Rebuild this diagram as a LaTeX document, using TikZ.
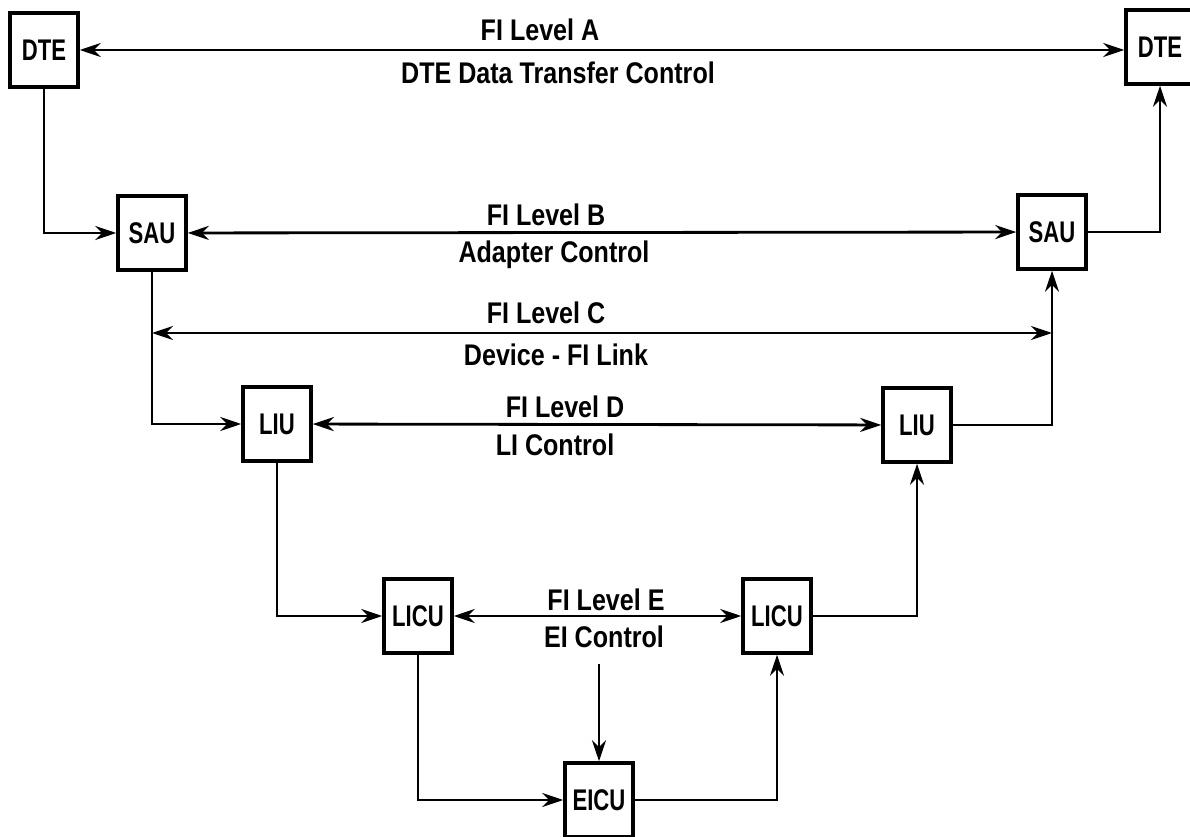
\documentclass[tikz,border=0pt]{standalone}
\usepackage{fontspec}
\setmainfont{Liberation Sans}[FakeStretch=0.84]
\newfontfamily\unitfont{Liberation Sans}[FakeStretch=0.74]
\usetikzlibrary{arrows.meta}
\tikzset{
  unit/.style={draw,line width=2pt,minimum width=1.36cm,minimum height=1.48cm,inner sep=0pt,font=\unitfont\bfseries\fontsize{17}{19}\selectfont},
  link/.style={line width=1.6pt},
  tip/.style={-{Stealth[length=12pt,width=8pt]}},
  both/.style={{Stealth[length=12pt,width=8pt]}-{Stealth[length=12pt,width=8pt]}},
  lbl/.style={font=\bfseries\fontsize{17}{19}\selectfont,inner sep=1pt}
}
\begin{document}
\begin{tikzpicture}[x=0.02cm,y=-0.02cm]
        \useasboundingbox (0,0) rectangle (1190,837);

        % Units
        \node[unit] (dteL) at (44,50) {DTE};
        \node[unit] (dteR) at (1160,47) {DTE};
        \node[unit] (sauL) at (152,233) {SAU};
        \node[unit] (sauR) at (1052,232) {SAU};
        \node[unit] (liuL) at (277,424) {LIU};
        \node[unit] (liuR) at (917,425) {LIU};
        \node[unit] (licuL) at (418,616) {LICU};
        \node[unit] (licuR) at (777,616) {LICU};
        \node[unit] (eicu) at (599,800) {EICU};

        % Level labels
        \node[lbl] (lvlA1) at (540,30) {FI Level A};
        \node[lbl] (lvlA2) at (558,73) {DTE Data Transfer Control};
        \node[lbl] (lvlB1) at (546,215) {FI Level B};
        \node[lbl] (lvlB2) at (554,255) {Adapter Control};
        \node[lbl] (lvlC1) at (546,313) {FI Level C};
        \node[lbl] (lvlC2) at (556,355) {Device - FI Link};
        \node[lbl] (lvlD1) at (565,407) {FI Level D};
        \node[lbl] (lvlD2) at (555,445) {LI Control};
        \node[lbl] (lvlE1) at (606,600) {FI Level E};
        \node[lbl] (lvlE2) at (604,637) {EI Control};
        \coordinate (lvlC) at (0,333);

        % Peer links
        \draw[link,both] (dteL.east) -- (dteL.east -| dteR.west);
        \draw[link,both] (sauL) -- (sauR);
        \draw[link,both] (sauL |- lvlC) -- (sauR |- lvlC);
        \draw[link,both] (liuL) -- (liuR);
        \draw[link,both] (licuL) -- (licuR);

        % Down the left side
        \draw[link,tip] (dteL.south) |- (sauL.west);
        \draw[link,tip] (sauL.south) |- (liuL.west);
        \draw[link,tip] (liuL.south) |- (licuL.west);
        \draw[link,tip] (licuL.south) |- (eicu.west);

        % Up the right side
        \draw[link,tip] (eicu.east) -| (licuR.south);
        \draw[link,tip] (licuR.east) -| (liuR.south);
        \draw[link,tip] (liuR.east) -| (sauR.south);
        \draw[link,tip] (sauR.east) -| (dteR.south);

        % Control into EICU
        \draw[link,tip,shorten <=8pt] (eicu.north |- lvlE2.south) -- (eicu.north);
    \end{tikzpicture}
\end{document}
